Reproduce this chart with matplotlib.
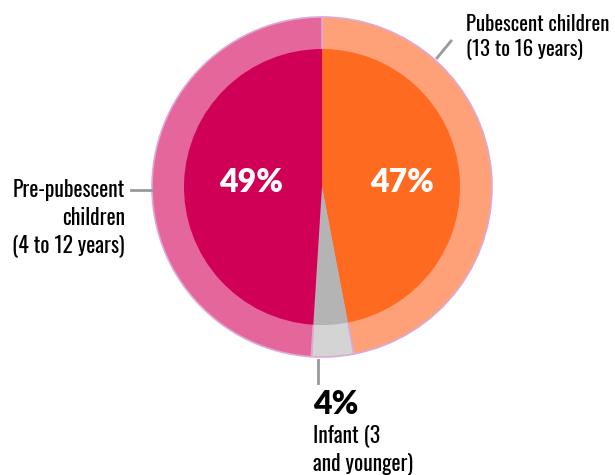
import matplotlib.pyplot as plt

# Age group shares (clockwise from top)
groups = ['Pubescent children\n(13 to 16 years)', 'Infant (3\nand younger)',
          'Pre-pubescent\nchildren\n(4 to 12 years)']
shares = [47, 4, 49]
inner_colors = ['#FF6A21', '#B4B4B4', '#D10057']
outer_colors = ['#FFA178', '#D4D4D4', '#E4669A']

narrow = ['Oswald', 'DejaVu Sans']
geo = ['Lato', 'DejaVu Sans']

W, H = 615, 475
fig = plt.figure(figsize=(6.15, 4.75), dpi=100)
ax = fig.add_axes([0, 0, 1, 1])

cx, cy = 322, H - 187
# outer ring
ax.pie(shares, colors=outer_colors, startangle=90, counterclock=False,
       radius=170, center=(cx, cy), frame=True,
       wedgeprops=dict(edgecolor='#DDA8D6', linewidth=1.2))
# inner pie
ax.pie(shares, colors=inner_colors, startangle=90, counterclock=False,
       radius=138, center=(cx, cy), frame=True,
       wedgeprops=dict(edgecolor='none'))

ax.set_xlim(0, W)
ax.set_ylim(0, H)
ax.set_aspect('equal')
ax.axis('off')

# percentages inside
ax.text(251, H - 182, f'{shares[2]}%', color='white', fontsize=23, fontweight='heavy',
        ha='center', va='center', family=geo)
ax.text(402, H - 182, f'{shares[0]}%', color='white', fontsize=23, fontweight='heavy',
        ha='center', va='center', family=geo)

lc = '#999999'
# pre-pubescent label
ax.plot([131, 152], [H - 190, H - 190], color=lc, lw=2)
ax.text(125, H - 218, groups[2], ha='right', va='center', fontsize=15.5,
        family=narrow, linespacing=1.3)
# pubescent label
ax.plot([437, 451], [H - 58, H - 41], color=lc, lw=2)
ax.text(466, H - 37, groups[0], ha='left', va='center', fontsize=15,
        family=narrow, linespacing=1.35)
# infant label
ax.plot([318, 318], [H - 360, H - 383], color=lc, lw=2)
ax.text(313, H - 404, f'{shares[1]}%', ha='left', va='center', fontsize=23,
        fontweight='heavy', family=geo)
ax.text(313, H - 450, groups[1], ha='left', va='center', fontsize=15.5,
        family=narrow, linespacing=1.3)

plt.savefig('out.png', dpi=100)
